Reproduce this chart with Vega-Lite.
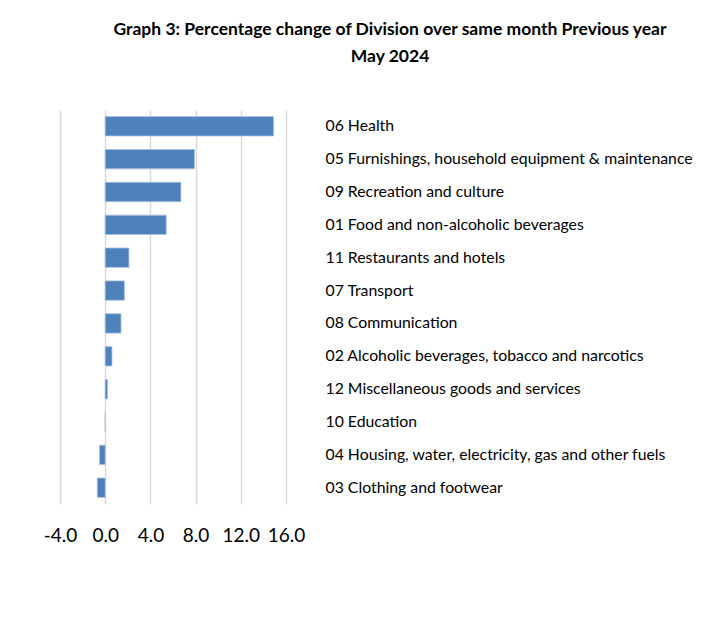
{
  "$schema": "https://vega.github.io/schema/vega-lite/v6.json",
  "autosize": "none",
  "width": 226,
  "height": 394,
  "padding": {"left": 60, "top": 110, "right": 438, "bottom": 126},
  "background": "white",
  "title": {
    "text": ["Graph 3: Percentage change of Division over same month  Previous year", "May 2024"],
    "font": "Lato",
    "fontSize": 17.5,
    "fontWeight": "bold",
    "color": "#000000",
    "anchor": "middle",
    "dx": 217,
    "lineHeight": 27,
    "offset": 45
  },
  "data": {
    "values": [
      {"division": "06 Health", "change": 14.9},
      {"division": "05 Furnishings, household equipment & maintenance", "change": 7.9},
      {"division": "09 Recreation and culture", "change": 6.7},
      {"division": "01 Food and non-alcoholic beverages", "change": 5.4},
      {"division": "11 Restaurants and hotels", "change": 2.1},
      {"division": "07 Transport", "change": 1.7},
      {"division": "08 Communication", "change": 1.4},
      {"division": "02 Alcoholic beverages, tobacco and narcotics", "change": 0.6},
      {"division": "12 Miscellaneous goods and services", "change": 0.2},
      {"division": "10 Education", "change": 0.0},
      {"division": "04 Housing, water, electricity, gas and other fuels", "change": -0.5},
      {"division": "03 Clothing and footwear", "change": -0.7}
    ]
  },
  "mark": {"type": "bar", "color": "#4F81BD", "stroke": "#A9C1E3", "strokeWidth": 0.8},
  "encoding": {
    "y": {
      "field": "division",
      "type": "nominal",
      "sort": null,
      "scale": {"paddingInner": 0.41, "paddingOuter": 0.2},
      "axis": {
        "orient": "right",
        "title": null,
        "domain": false,
        "ticks": false,
        "grid": false,
        "labelAlign": "left",
        "labelPadding": 39,
        "labelFont": "Lato",
        "labelFontSize": 15.8,
        "labelColor": "#000000",
        "labelLimit": 500
      }
    },
    "x": {
      "field": "change",
      "type": "quantitative",
      "scale": {"domain": [-4, 16], "nice": false},
      "axis": {
        "title": null,
        "values": [-4, 0, 4, 8, 12, 16],
        "format": ".1f",
        "labelExpr": "replace(datum.label, '−', '-')",
        "labelOverlap": false,
        "labelFlush": false,
        "domain": false,
        "ticks": false,
        "grid": true,
        "gridColor": "#D9D9D9",
        "gridWidth": 1.5,
        "labelFont": "Lato",
        "labelFontSize": 19,
        "labelColor": "#000000",
        "labelPadding": 22
      }
    }
  },
  "config": {"view": {"stroke": null}}
}
